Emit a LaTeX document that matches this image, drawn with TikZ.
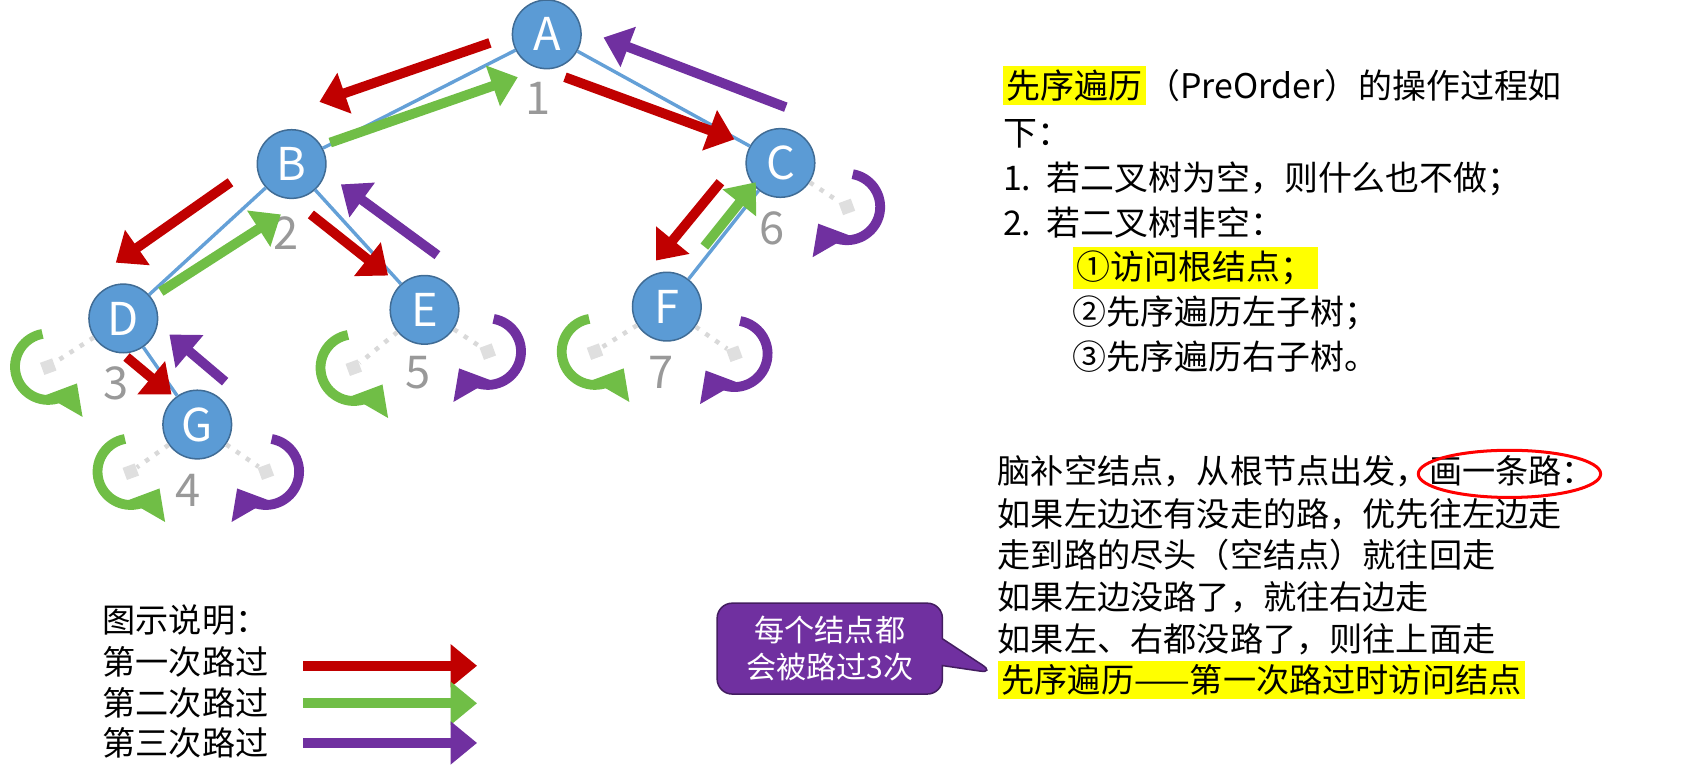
\documentclass[tikz,border=0pt]{standalone}
\usepackage{fontspec}
\setmainfont{Noto Sans CJK SC}
\usetikzlibrary{positioning}
\usetikzlibrary{arrows.meta}
\usetikzlibrary{shapes.callouts}

\definecolor{nodeblue}{RGB}{91,155,213}
\definecolor{edgeblue}{RGB}{100,160,215}
\definecolor{passone}{RGB}{192,0,0}
\definecolor{passtwo}{RGB}{112,190,70}
\definecolor{passthree}{RGB}{112,48,160}
\definecolor{hl}{RGB}{255,255,0}
\setlength{\fboxsep}{1pt}

\tikzset{
    tnode/.style={circle, fill=nodeblue, draw=nodeblue!70!black, minimum size=0.64cm, inner sep=0pt, text=white, font=\large},
    tedge/.style={edgeblue, line width=0.9pt},
    pass/.style={line width=2.6pt, -{Triangle[length=7pt,width=11pt]}},
    nullsq/.style={fill=gray!25, minimum size=0.12cm, inner sep=0pt, rotate=20},
    nulledge/.style={gray!30, dotted, line width=1.2pt},
    numlbl/.style={text=gray!80, font=\large},
    txt/.style={anchor=west, font=\fontsize{9pt}{11pt}\selectfont, inner sep=0pt},
    txtsmall/.style={anchor=west, font=\fontsize{8.8pt}{10pt}\selectfont, inner sep=0pt}
}

\begin{document}
\begin{tikzpicture}[x=0.01cm, y=-0.01cm]
        \useasboundingbox (0,0) rectangle (1568,720);

        % tree nodes
        \node[tnode] (A) at (510,32) {A};
        \node[tnode] (B) at (272,153) {B};
        \node[tnode] (C) at (728,152) {C};
        \node[tnode] (D) at (115,297) {D};
        \node[tnode] (E) at (396,289) {E};
        \node[tnode] (F) at (622,286) {F};
        \node[tnode] (G) at (184,396) {G};

        \draw[tedge] (A) -- (B);
        \draw[tedge] (A) -- (C);
        \draw[tedge] (B) -- (D);
        \draw[tedge] (B) -- (E);
        \draw[tedge] (C) -- (F);
        \draw[tedge] (D) -- (G);

        % empty children
        \node[nullsq] (Dl) at (45,342) {};
        \node[nullsq] (El) at (330,343) {};
        \node[nullsq] (Er) at (455,328) {};
        \node[nullsq] (Fl) at (555,328) {};
        \node[nullsq] (Fr) at (685,330) {};
        \node[nullsq] (Gl) at (122,440) {};
        \node[nullsq] (Gr) at (248,440) {};
        \node[nullsq] (Cr) at (790,193) {};
        \foreach \p/\q in {D/Dl, E/El, E/Er, F/Fl, F/Fr, G/Gl, G/Gr, C/Cr} {
            \draw[nulledge] (\p) -- (\q);
        }

        % visit numbers
        \node[numlbl] (n1) at (502,92) {1};
        \node[numlbl] (n2) at (267,217) {2};
        \node[numlbl] (n3) at (108,358) {3};
        \node[numlbl] (n4) at (175,457) {4};
        \node[numlbl] (n5) at (390,348) {5};
        \node[numlbl] (n6) at (720,213) {6};
        \node[numlbl] (n7) at (617,347) {7};

        % first pass
        \draw[pass, passone] (457,40) -- (298,95);
        \draw[pass, passone] (527,72) -- (685,130);
        \draw[pass, passone] (215,170) -- (108,245);
        \draw[pass, passone] (290,200) -- (362,257);
        \draw[pass, passone] (118,333) -- (160,368);
        \draw[pass, passone] (672,170) -- (612,243);

        % second pass
        \draw[pass, passtwo] (308,133) -- (483,72);
        \draw[pass, passtwo] (150,272) -- (262,200);
        \draw[pass, passtwo] (657,230) -- (705,170);
        \foreach \q in {Dl, El, Fl, Gl} {
            \begin{scope}[shift={(\q.center)}, x=1cm, y=1cm]
                \draw[pass, passtwo] (100:0.31) arc[start angle=100, end angle=330, radius=0.31];
            \end{scope}
        }

        % third pass
        \draw[pass, passthree] (733,100) -- (563,35);
        \draw[pass, passthree] (408,238) -- (318,172);
        \draw[pass, passthree] (210,356) -- (158,312);
        \foreach \q in {Er, Fr, Gr, Cr} {
            \begin{scope}[shift={(\q.center)}, x=1cm, y=1cm]
                \draw[pass, passthree] (80:0.31) arc[start angle=80, end angle=-150, radius=0.31];
            \end{scope}
        }

        % legend
        \node[txtsmall] (leg) at (95,578) {图示说明：};
        \node[txtsmall] (leg1) at (95,617) {第一次路过};
        \node[txtsmall] (leg2) at (95,656) {第二次路过};
        \node[txtsmall] (leg3) at (95,693) {第三次路过};
        \draw[pass, passone] (283,621) -- (445,621);
        \draw[pass, passtwo] (283,656) -- (445,656);
        \draw[pass, passthree] (283,693) -- (445,693);

        % description
        \node[txt] (t1) at (935,80) {\colorbox{hl}{先序遍历}（PreOrder）的操作过程如};
        \node[txt] (t2) at (935,125) {下：};
        \node[txt] (t3) at (935,167) {1.\ \ 若二叉树为空，则什么也不做；};
        \node[txt] (t4) at (935,208) {2.\ \ 若二叉树非空：};
        \node[txt] (t5) at (1000,250) {\colorbox{hl}{①访问根结点；}};
        \node[txt] (t6) at (1000,292) {②先序遍历左子树；};
        \node[txt] (t7) at (1000,333) {③先序遍历右子树。};

        \node[txtsmall] (s1) at (930,440) {脑补空结点，从根节点出发，画一条路：};
        \node[txtsmall] (s2) at (930,480) {如果左边还有没走的路，优先往左边走};
        \node[txtsmall] (s3) at (930,518) {走到路的尽头（空结点）就往回走};
        \node[txtsmall] (s4) at (930,557) {如果左边没路了，就往右边走};
        \node[txtsmall] (s5) at (930,596) {如果左、右都没路了，则往上面走};
        \node[txtsmall, fill=hl, inner sep=1pt] (s6) at (930,634) {先序遍历——第一次路过时访问结点};
        \draw[red, thick] (1408,442) ellipse[x radius=0.85cm, y radius=0.22cm];

        % callout
        \node[rectangle callout, rounded corners=4pt, fill=passthree, draw=passthree!60!black,
              text=white, align=center, font=\fontsize{8pt}{10pt}\selectfont,
              minimum width=2.1cm, minimum height=0.8cm,
              callout absolute pointer={(928,628)}] (call) at (774,605) {每个结点都\\会被路过3次};
\end{tikzpicture}
\end{document}
